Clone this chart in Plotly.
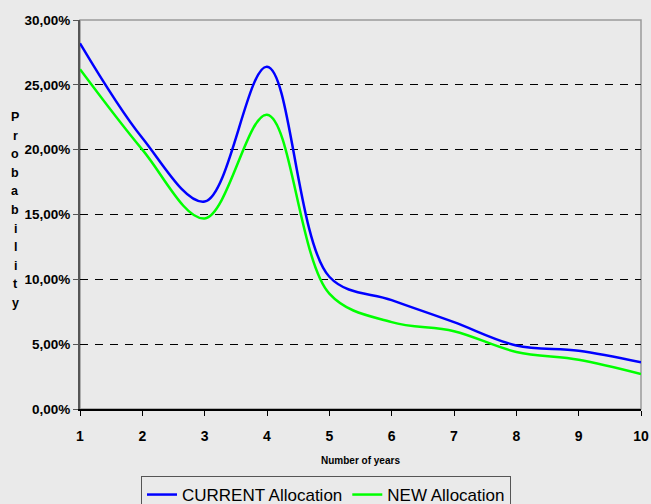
import plotly.graph_objects as go

years = [1, 2, 3, 4, 5, 6, 7, 8, 9, 10]
current_alloc = [0.282, 0.209, 0.160, 0.264, 0.102, 0.084, 0.067, 0.049, 0.045, 0.036]
new_alloc = [0.262, 0.200, 0.147, 0.227, 0.089, 0.067, 0.060, 0.044, 0.038, 0.027]
y_ticks = [0, 0.05, 0.10, 0.15, 0.20, 0.25, 0.30]
y_title = "Probability"

FONT = "Liberation Sans, Arial, sans-serif"
BG = "#EAEAEA"

fig = go.Figure()
fig.add_trace(go.Scatter(x=years, y=current_alloc, mode="lines", name="CURRENT Allocation",
                         line=dict(color="#0000FF", width=2.5, shape="spline", smoothing=1.0)))
fig.add_trace(go.Scatter(x=years, y=new_alloc, mode="lines", name="NEW Allocation",
                         line=dict(color="#00FF00", width=2.5, shape="spline", smoothing=1.0)))

# vertical stacked y-axis title, one letter per annotation
plot_h = 504 - 20 - 95
letter_ann = []
n = len(y_title)
top_px, bot_px = 117, 303
for i, ch in enumerate(y_title):
    py = top_px + (bot_px - top_px) * i / (n - 1)
    letter_ann.append(dict(xref="paper", yref="paper", x=(15 - 80) / 561, y=(409 - py) / plot_h,
                           xanchor="center", yanchor="middle", text=ch, showarrow=False,
                           font=dict(family=FONT, size=12.5, weight="bold")))

fig.update_layout(
    width=651, height=504,
    paper_bgcolor=BG, plot_bgcolor=BG,
    margin=dict(l=80, r=10, t=20, b=95, autoexpand=False),
    separators=",.",
    font=dict(family=FONT, color="#000000"),
    showlegend=True,
    legend=dict(orientation="h", x=0.4385, xanchor="center", y=(409 - 476) / plot_h, yanchor="top",
                bgcolor=BG, bordercolor="#555555", borderwidth=1,
                font=dict(family=FONT, size=17, color="#000000"),
                itemwidth=30, tracegroupgap=0),
    shapes=[dict(type="rect", xref="paper", yref="paper", x0=0, x1=1, y0=0, y1=1,
                 line=dict(color="#9A9A9A", width=1.5), layer="below")],
    annotations=letter_ann,
)
fig.update_xaxes(range=[1, 10], tickvals=years, ticks="outside", ticklen=5, tickcolor="#000000",
                 showline=True, linecolor="#000000", linewidth=1.5, showgrid=False, zeroline=False,
                 ticklabelstandoff=8, automargin=False,
                 tickfont=dict(family=FONT, size=14, weight="bold"),
                 title=dict(text="Number of years", font=dict(family=FONT, size=10, weight="bold"), standoff=14))
fig.update_yaxes(range=[0, 0.30], tickvals=y_ticks, tickformat=".2%", ticks="outside", ticklen=5,
                 tickcolor="#555555", showline=True, linecolor="#555555", linewidth=2, automargin=False,
                 showgrid=True, gridcolor="#000000", gridwidth=1, griddash="8px,7px", zeroline=False,
                 tickfont=dict(family=FONT, size=13.5, weight="bold"))

fig.write_html("out.html", config={"displayModeBar": False},
               post_script="document.body.style.margin='0';document.body.style.background='#EAEAEA';")
